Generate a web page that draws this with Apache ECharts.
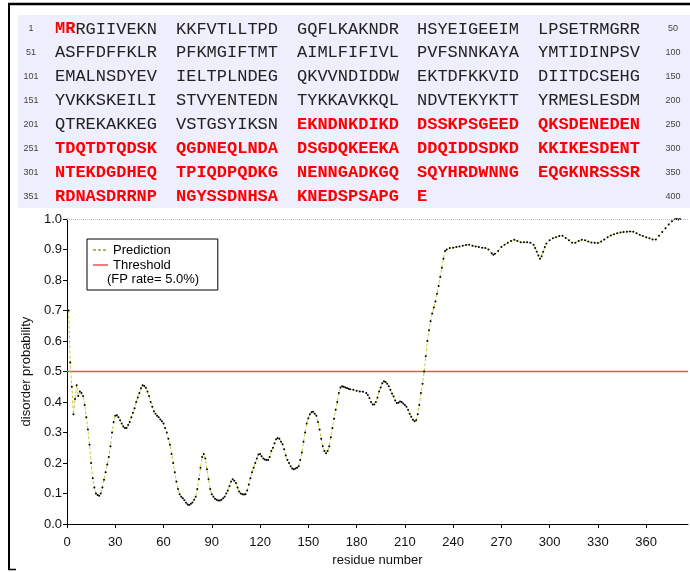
<!DOCTYPE html>
<html>
<head>
<meta charset="utf-8">
<script src="https://cdn.jsdelivr.net/npm/echarts@6/dist/echarts.min.js"></script>
<style>html,body{margin:0;padding:0;background:#fff}#c{width:690px;height:572px}</style>
</head>
<body>
<div id="c"></div>
<script>
// ---- sequence panel data ----
const seqRowStarts = [1, 51, 101, 151, 201, 251, 301, 351];
const seqRowEnds = [50, 100, 150, 200, 250, 300, 350, 400];
const seqRows = [
  "MRRGIIVEKN KKFVTLLTPD GQFLKAKNDR HSYEIGEEIM LPSETRMGRR",
  "ASFFDFFKLR PFKMGIFTMT AIMLFIFIVL PVFSNNKAYA YMTIDINPSV",
  "EMALNSDYEV IELTPLNDEG QKVVNDIDDW EKTDFKKVID DIITDCSEHG",
  "YVKKSKEILI STVYENTEDN TYKKAVKKQL NDVTEKYKTT YRMESLESDM",
  "QTREKAKKEG VSTGSYIKSN EKNDNKDIKD DSSKPSGEED QKSDENEDEN",
  "TDQTDTQDSK QGDNEQLNDA DSGDQKEEKA DDQIDDSDKD KKIKESDENT",
  "NTEKDGDHEQ TPIQDPQDKG NENNGADKGQ SQYHRDWNNG EQGKNRSSSR",
  "RDNASDRRNP NGYSSDNHSA KNEDSPSAPG E"
];
const disorderedRanges = [[1, 2], [221, 381]];

// ---- plot data ----
const residues = [1,2,3,4,5,6,7,8,9,10,11,12,13,14,15,16,17,18,19,20,21,22,23,24,25,26,27,28,29,30,
 31,32,33,34,35,36,37,38,39,40,41,42,43,44,45,46,47,48,49,50,51,52,53,54,55,56,57,58,59,60,
 61,62,63,64,65,66,67,68,69,70,71,72,73,74,75,76,77,78,79,80,81,82,83,84,85,86,87,88,89,90,
 91,92,93,94,95,96,97,98,99,100,101,102,103,104,105,106,107,108,109,110,111,112,113,114,115,116,117,118,119,120,
 121,122,123,124,125,126,127,128,129,130,131,132,133,134,135,136,137,138,139,140,141,142,143,144,145,146,147,148,149,150,
 151,152,153,154,155,156,157,158,159,160,161,162,163,164,165,166,167,168,169,170,171,172,173,174,175,176,178,180,182,184,
 186,187,188,189,190,191,192,193,194,195,196,197,198,199,200,201,202,203,204,205,206,207,208,209,210,211,212,213,214,215,
 216,217,218,219,220,221,222,223,224,225,226,227,228,229,230,231,232,233,234,235,236,238,240,242,244,246,248,250,252,254,
 256,258,260,262,264,265,266,268,270,272,274,276,278,280,282,284,286,288,290,291,292,293,294,295,296,297,298,300,302,304,
 306,308,310,312,314,316,318,320,322,324,326,328,330,332,334,336,338,340,342,344,346,348,350,352,354,356,358,360,362,364,
 366,368,370,372,374,376,378,379,380,381];
const probability = [0.70,0.53,0.45,0.36,0.41,0.455,0.42,0.435,0.43,0.42,0.39,0.35,0.31,0.26,0.20,0.15,0.12,0.10,0.095,0.093,
 0.10,0.12,0.145,0.17,0.195,0.22,0.255,0.30,0.335,0.355,0.357,0.35,0.34,0.33,0.32,0.315,0.315,0.325,0.335,0.35,
 0.365,0.38,0.40,0.415,0.43,0.445,0.455,0.453,0.447,0.435,0.42,0.40,0.385,0.37,0.362,0.355,0.35,0.343,0.337,0.33,
 0.315,0.30,0.28,0.26,0.23,0.20,0.17,0.14,0.115,0.098,0.09,0.085,0.078,0.07,0.064,0.063,0.067,0.071,0.08,0.09,
 0.115,0.148,0.185,0.22,0.23,0.215,0.18,0.147,0.115,0.098,0.09,0.083,0.08,0.077,0.077,0.08,0.085,0.09,0.10,0.11,
 0.125,0.14,0.147,0.142,0.135,0.12,0.107,0.10,0.098,0.097,0.098,0.11,0.13,0.15,0.17,0.185,0.20,0.215,0.228,0.23,
 0.222,0.215,0.212,0.21,0.21,0.22,0.24,0.25,0.265,0.278,0.282,0.28,0.27,0.262,0.245,0.225,0.21,0.20,0.19,0.182,
 0.18,0.182,0.185,0.19,0.21,0.235,0.27,0.30,0.33,0.347,0.36,0.367,0.368,0.362,0.355,0.335,0.31,0.28,0.255,0.24,
 0.232,0.24,0.255,0.285,0.315,0.345,0.375,0.40,0.43,0.448,0.452,0.45,0.448,0.446,0.444,0.442,0.44,0.437,0.435,0.434,
 0.43,0.423,0.413,0.40,0.392,0.392,0.40,0.415,0.435,0.448,0.462,0.468,0.466,0.46,0.452,0.44,0.428,0.418,0.405,0.397,
 0.398,0.402,0.40,0.395,0.39,0.385,0.375,0.362,0.352,0.342,0.337,0.34,0.36,0.39,0.43,0.46,0.50,0.55,0.60,0.635,
 0.665,0.69,0.71,0.73,0.755,0.78,0.81,0.84,0.87,0.895,0.90,0.905,0.906,0.908,0.91,0.912,0.915,0.916,0.912,0.91,
 0.908,0.906,0.905,0.90,0.888,0.883,0.886,0.895,0.908,0.916,0.922,0.928,0.932,0.928,0.924,0.924,0.924,0.922,0.916,0.905,
 0.893,0.88,0.87,0.878,0.893,0.908,0.92,0.93,0.937,0.94,0.944,0.945,0.938,0.93,0.922,0.922,0.928,0.932,0.93,0.926,
 0.923,0.922,0.921,0.926,0.933,0.94,0.946,0.95,0.953,0.956,0.957,0.958,0.959,0.958,0.953,0.948,0.944,0.94,0.937,0.933,
 0.933,0.945,0.957,0.97,0.982,0.993,0.999,1.0,0.998,1.0];
const thresholdValue = 0.5;
const xTickValues = [0,30,60,90,120,150,180,210,240,270,300,330,360];

// ---- build ----
const predData = residues.map((r, i) => [r, probability[i]]);
function isDisordered(n) {
  return disorderedRanges.some(([a, b]) => n >= a && n <= b);
}
const groupX = [55, 176, 297, 417, 538];
const rowY0 = 29, rowStep = 23.9;
const seqElements = [];
seqRows.forEach((row, ri) => {
  const y = rowY0 + ri * rowStep;
  const groups = row.split(' ');
  groups.forEach((g, gi) => {
    let parts = [];
    let cur = null, buf = '';
    for (let k = 0; k < g.length; k++) {
      const n = seqRowStarts[ri] + gi * 10 + k;
      const t = isDisordered(n) ? 'r' : 'k';
      if (t !== cur && buf) { parts.push('{' + cur + '|' + buf + '}'); buf = ''; }
      cur = t; buf += g[k];
    }
    if (buf) parts.push('{' + cur + '|' + buf + '}');
    seqElements.push({
      type: 'text', x: groupX[gi], y: y,
      style: {
        text: parts.join(''),
        textVerticalAlign: 'middle', verticalAlign: 'middle',
        rich: {
          r: { fill: '#ff0000', fontWeight: 'bold', fontSize: 17, fontFamily: 'Liberation Mono' },
          k: { fill: '#222222', fontWeight: 'normal', fontSize: 17, fontFamily: 'Liberation Mono' }
        }
      }
    });
  });
  seqElements.push({
    type: 'text', x: 31, y: y,
    style: { text: String(seqRowStarts[ri]), font: '9px "Liberation Sans"', fill: '#444',
      textAlign: 'center', align: 'center', textVerticalAlign: 'middle', verticalAlign: 'middle' }
  });
  seqElements.push({
    type: 'text', x: 673, y: y,
    style: { text: String(seqRowEnds[ri]), font: '9px "Liberation Sans"', fill: '#444',
      textAlign: 'center', align: 'center', textVerticalAlign: 'middle', verticalAlign: 'middle' }
  });
});

const predColor = '#c9c93a';
const threshColor = '#f05050';
const chart = echarts.init(document.getElementById('c'), null, { renderer: 'canvas' });
const font = 'Liberation Sans';
chart.setOption({
  animation: false,
  backgroundColor: '#ffffff',
  textStyle: { fontFamily: font },
  grid: { left: 67, right: 2, top: 219, bottom: 45, containLabel: false },
  legend: {
    orient: 'vertical', left: 87, top: 239,
    backgroundColor: '#fff', borderColor: '#000', borderWidth: 1, borderRadius: 0,
    padding: [4, 47, 18, 6], itemGap: 1, itemWidth: 15, itemHeight: 14,
    textStyle: { fontSize: 13, color: '#000', fontFamily: font },
    data: [
      { name: 'Prediction',
        icon: 'path://M0,0h0.01v0.01h-0.01z M0,6.3h3v1.4h-3z M5,6.3h3v1.4h-3z M10,6.3h3v1.4h-3z M14.99,13.99h0.01v0.01h-0.01z',
        itemStyle: { color: '#9a9a30' } },
      { name: 'Threshold',
        icon: 'path://M0,0h0.01v0.01h-0.01z M0,6.3h15v1.4h-15z M14.99,13.99h0.01v0.01h-0.01z',
        itemStyle: { color: threshColor } }
    ]
  },
  xAxis: {
    type: 'value', min: 0, max: 386,
    name: 'residue number', nameLocation: 'middle', nameGap: 25,
    nameTextStyle: { fontSize: 13, color: '#111', fontFamily: font },
    axisLine: { lineStyle: { color: '#000', width: 1 } },
    axisTick: { show: true, inside: false, length: 4, customValues: xTickValues, lineStyle: { color: '#000' } },
    axisLabel: { customValues: xTickValues, fontSize: 13, color: '#111', margin: 12, fontFamily: font },
    splitLine: { show: false }
  },
  yAxis: {
    type: 'value', min: 0, max: 1, interval: 0.1,
    name: 'disorder probability', nameLocation: 'middle', nameGap: 32,
    nameTextStyle: { fontSize: 13, color: '#111', fontFamily: font },
    axisLine: { show: true, lineStyle: { color: '#000', width: 1 } },
    axisTick: { show: true, inside: false, length: 4, lineStyle: { color: '#000' } },
    axisLabel: { fontSize: 13, color: '#111', margin: 5, fontFamily: font,
      formatter: v => v.toFixed(1) },
    splitLine: { show: false }
  },
  series: [
    {
      name: 'Threshold', type: 'line',
      data: [[0, thresholdValue], [386, thresholdValue]],
      symbol: 'none', silent: true,
      lineStyle: { color: threshColor, width: 1.5 },
      itemStyle: { color: threshColor },
      markLine: {
        silent: true, symbol: 'none', label: { show: false },
        lineStyle: { color: '#bbbbbb', type: 'dotted', width: 1 },
        data: [{ yAxis: 1 }]
      },
      z: 2
    },
    {
      name: 'Prediction', type: 'line',
      data: predData,
      symbol: 'circle', symbolSize: 2, showSymbol: true,
      itemStyle: { color: '#000', borderWidth: 0 },
      lineStyle: { color: predColor, width: 1, type: [3, 2] },
      z: 3
    }
  ],
  graphic: {
    elements: [
      { type: 'line', shape: { x1: 8, y1: 4, x2: 690, y2: 4 }, style: { stroke: '#000', lineWidth: 2.5 } },
      { type: 'line', shape: { x1: 9, y1: 4, x2: 9, y2: 570 }, style: { stroke: '#000', lineWidth: 2 } },
      { type: 'line', shape: { x1: 8, y1: 569.5, x2: 16, y2: 569.5 }, style: { stroke: '#000', lineWidth: 1.5 } },
      { type: 'rect', shape: { x: 18, y: 15, width: 672, height: 193 }, style: { fill: '#eeeefc' }, z: -1 },
      ...seqElements,
      { type: 'text', x: 107, y: 279, z: 100,
        style: { text: '(FP rate= 5.0%)', font: '13px "Liberation Sans"', fill: '#000',
          textVerticalAlign: 'middle', verticalAlign: 'middle' } }
    ]
  }
});
</script>
</body>
</html>
